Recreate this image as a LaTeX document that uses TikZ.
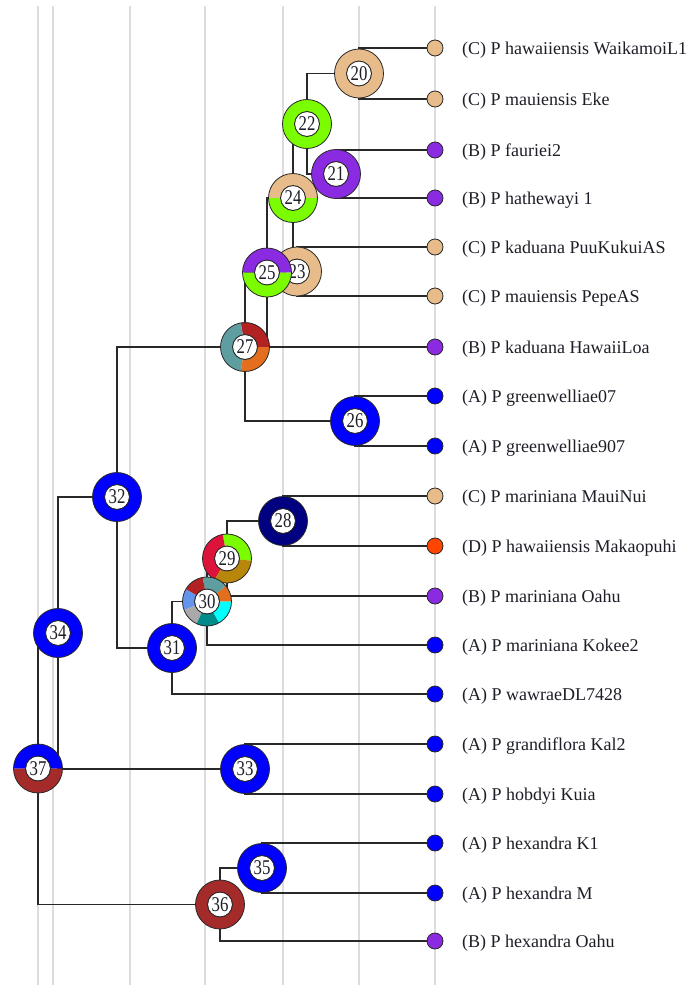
\documentclass[tikz,border=0pt]{standalone}
\usepackage{fontspec}
\setmainfont{Liberation Serif}
\newfontfamily\numfont[FakeStretch=0.8]{Liberation Serif}
\definecolor{tanc}{RGB}{232,188,138}
\definecolor{grn}{RGB}{124,252,0}
\definecolor{pur}{RGB}{138,43,226}
\definecolor{blu}{RGB}{0,0,255}
\definecolor{nav}{RGB}{0,0,128}
\definecolor{ored}{RGB}{255,69,0}
\definecolor{brn}{RGB}{165,42,42}
\definecolor{fireb}{RGB}{178,34,34}
\definecolor{cadet}{RGB}{95,158,160}
\definecolor{choc}{RGB}{226,110,30}
\definecolor{crim}{RGB}{220,20,60}
\definecolor{gold}{RGB}{184,134,11}
\definecolor{corn}{RGB}{100,149,237}
\definecolor{dgray}{RGB}{169,169,169}
\definecolor{dcyan}{RGB}{0,139,139}
\definecolor{cyn}{RGB}{0,255,255}
\definecolor{gridc}{RGB}{220,220,224}
\definecolor{linec}{RGB}{40,40,40}
\definecolor{txtc}{RGB}{30,30,40}
\pgfdeclarelayer{bg}
\pgfdeclarelayer{edges}
\pgfsetlayers{bg,edges,main}
\newcommand\ringseg[4]{\fill[#4] ([shift={(#2:24.5)}]#1.center) arc[start angle=#2, end angle=#3, radius=24.5] -- ([shift={(#3:12.5)}]#1.center) arc[start angle=#3, end angle=#2, radius=12.5] -- cycle;}
\newcommand\ringout[1]{\draw[ringedge] (#1.center) circle[radius=24.5]; \draw[ringedge] (#1.center) circle[radius=12.5];}
\begin{document}
\begin{tikzpicture}[x=1pt,y=1pt,
  leaf/.style={circle, draw=linec, line width=0.8pt, minimum size=16, inner sep=0},
  num/.style={circle, fill=white, draw=linec, line width=0.7pt, minimum size=25, inner sep=0, font=\numfont\fontsize{21}{21}\selectfont, text=txtc},
  lab/.style={anchor=base west, inner sep=0, font=\fontsize{18}{18}\selectfont, text=txtc},
  conn/.style={draw=linec, line width=1.3pt},
  gridln/.style={draw=gridc, line width=1.2pt},
  ringedge/.style={draw=linec, line width=0.8pt}]
\useasboundingbox (0,0) rectangle (697,-985);

% background and grid
\begin{pgfonlayer}{bg}
\fill[white] (0,0) rectangle (697,-985);
\foreach \gx in {38,53,130,205,283,359,435} {\draw[gridln] (\gx,-6) -- (\gx,-985);}
\end{pgfonlayer}

% leaves
\node[leaf, fill=tanc] (L0) at (435,-48) {};
\node[leaf, fill=tanc] (L1) at (435,-99) {};
\node[leaf, fill=pur] (L2) at (435,-150) {};
\node[leaf, fill=pur] (L3) at (435,-198) {};
\node[leaf, fill=tanc] (L4) at (435,-247) {};
\node[leaf, fill=tanc] (L5) at (435,-296) {};
\node[leaf, fill=pur] (L6) at (435,-347) {};
\node[leaf, fill=blu] (L7) at (435,-396) {};
\node[leaf, fill=blu] (L8) at (435,-446) {};
\node[leaf, fill=tanc] (L9) at (435,-496) {};
\node[leaf, fill=ored] (L10) at (435,-546) {};
\node[leaf, fill=pur] (L11) at (435,-596) {};
\node[leaf, fill=blu] (L12) at (435,-645) {};
\node[leaf, fill=blu] (L13) at (435,-694) {};
\node[leaf, fill=blu] (L14) at (435,-744) {};
\node[leaf, fill=blu] (L15) at (435,-794) {};
\node[leaf, fill=blu] (L16) at (435,-843) {};
\node[leaf, fill=blu] (L17) at (435,-893) {};
\node[leaf, fill=pur] (L18) at (435,-941) {};

% labels
\node[lab] (T0) at (462,-54) {(C) P hawaiiensis WaikamoiL1};
\node[lab] (T1) at (462,-105) {(C) P mauiensis Eke};
\node[lab] (T2) at (462,-156) {(B) P fauriei2};
\node[lab] (T3) at (462,-204) {(B) P hathewayi 1};
\node[lab] (T4) at (462,-253) {(C) P kaduana PuuKukuiAS};
\node[lab] (T5) at (462,-302) {(C) P mauiensis PepeAS};
\node[lab] (T6) at (462,-353) {(B) P kaduana HawaiiLoa};
\node[lab] (T7) at (462,-402) {(A) P greenwelliae07};
\node[lab] (T8) at (462,-452) {(A) P greenwelliae907};
\node[lab] (T9) at (462,-502) {(C) P mariniana MauiNui};
\node[lab] (T10) at (462,-552) {(D) P hawaiiensis Makaopuhi};
\node[lab] (T11) at (462,-602) {(B) P mariniana Oahu};
\node[lab] (T12) at (462,-651) {(A) P mariniana Kokee2};
\node[lab] (T13) at (462,-700) {(A) P wawraeDL7428};
\node[lab] (T14) at (462,-750) {(A) P grandiflora Kal2};
\node[lab] (T15) at (462,-800) {(A) P hobdyi Kuia};
\node[lab] (T16) at (462,-849) {(A) P hexandra K1};
\node[lab] (T17) at (462,-899) {(A) P hexandra M};
\node[lab] (T18) at (462,-947) {(B) P hexandra Oahu};

% internal nodes (drawn in stacking order)
\node[num] (n20) at (359,-73.5) {20}; \ringseg{n20}{0}{360}{tanc} \ringout{n20}
\node[num] (n21) at (336,-174) {21}; \ringseg{n21}{0}{360}{pur} \ringout{n21}
\node[num] (n22) at (307,-124) {22}; \ringseg{n22}{0}{360}{grn} \ringout{n22}
\node[num] (n24) at (293,-198) {24}; \ringseg{n24}{0}{180}{tanc} \ringseg{n24}{180}{360}{grn} \ringout{n24}
\node[num] (n23) at (297,-271.5) {23}; \ringseg{n23}{0}{360}{tanc} \ringout{n23}
\node[num] (n25) at (267,-272.5) {25}; \ringseg{n25}{0}{180}{pur} \ringseg{n25}{180}{360}{grn} \ringout{n25}
\node[num] (n26) at (355,-421) {26}; \ringseg{n26}{0}{360}{blu} \ringout{n26}
\node[num] (n27) at (245,-347) {27}; \ringseg{n27}{0}{100}{fireb} \ringseg{n27}{100}{260}{cadet} \ringseg{n27}{260}{360}{choc} \ringout{n27}
\node[num] (n28) at (283,-521) {28}; \ringseg{n28}{0}{360}{nav} \ringout{n28}
\node[num] (n29) at (227,-558.5) {29}; \ringseg{n29}{-5}{100}{grn} \ringseg{n29}{100}{240}{crim} \ringseg{n29}{240}{355}{gold} \ringout{n29}
\node[num] (n30) at (207,-601.5) {30}; \ringseg{n30}{0}{40}{choc} \ringseg{n30}{40}{100}{cadet} \ringseg{n30}{100}{150}{fireb} \ringseg{n30}{150}{200}{corn} \ringseg{n30}{200}{245}{dgray} \ringseg{n30}{245}{300}{dcyan} \ringseg{n30}{300}{360}{cyn} \ringout{n30}
\node[num] (n31) at (172,-648) {31}; \ringseg{n31}{0}{360}{blu} \ringout{n31}
\node[num] (n32) at (117,-497) {32}; \ringseg{n32}{0}{360}{blu} \ringout{n32}
\node[num] (n33) at (245,-769) {33}; \ringseg{n33}{0}{360}{blu} \ringout{n33}
\node[num] (n34) at (58,-633) {34}; \ringseg{n34}{0}{360}{blu} \ringout{n34}
\node[num] (n35) at (262,-868) {35}; \ringseg{n35}{0}{360}{blu} \ringout{n35}
\node[num] (n36) at (220,-904.5) {36}; \ringseg{n36}{0}{360}{brn} \ringout{n36}
\node[num] (n37) at (38,-768.5) {37}; \ringseg{n37}{0}{180}{blu} \ringseg{n37}{180}{360}{brn} \ringout{n37}

% connectors
\begin{pgfonlayer}{edges}
\draw[conn] (n20.center) |- (L0.center);
\draw[conn] (n20.center) |- (L1.center);
\draw[conn] (n21.center) |- (L2.center);
\draw[conn] (n21.center) |- (L3.center);
\draw[conn] (n22.center) |- (n20.center);
\draw[conn] (n22.center) |- (n21.center);
\draw[conn] (n23.center) |- (L4.center);
\draw[conn] (n23.center) |- (L5.center);
\draw[conn] (n24.center) |- (n22.center);
\draw[conn] (n24.center) |- (n23.center);
\draw[conn] (n25.center) |- (n24.center);
\draw[conn] (n25.center) |- (L6.center);
\draw[conn] (n26.center) |- (L7.center);
\draw[conn] (n26.center) |- (L8.center);
\draw[conn] (n27.center) |- (n25.center);
\draw[conn] (n27.center) |- (n26.center);
\draw[conn] (n28.center) |- (L9.center);
\draw[conn] (n28.center) |- (L10.center);
\draw[conn] (n29.center) |- (n28.center);
\draw[conn] (n29.center) |- (L11.center);
\draw[conn] (n30.center) |- (n29.center);
\draw[conn] (n30.center) |- (L12.center);
\draw[conn] (n31.center) |- (n30.center);
\draw[conn] (n31.center) |- (L13.center);
\draw[conn] (n32.center) |- (n27.center);
\draw[conn] (n32.center) |- (n31.center);
\draw[conn] (n33.center) |- (L14.center);
\draw[conn] (n33.center) |- (L15.center);
\draw[conn] (n34.center) |- (n32.center);
\draw[conn] (n34.center) |- (n33.center);
\draw[conn] (n35.center) |- (L16.center);
\draw[conn] (n35.center) |- (L17.center);
\draw[conn] (n36.center) |- (n35.center);
\draw[conn] (n36.center) |- (L18.center);
\draw[conn] (n37.center) |- (n34.center);
\draw[conn] (n37.center) |- (n36.center);
\end{pgfonlayer}
\end{tikzpicture}
\end{document}
